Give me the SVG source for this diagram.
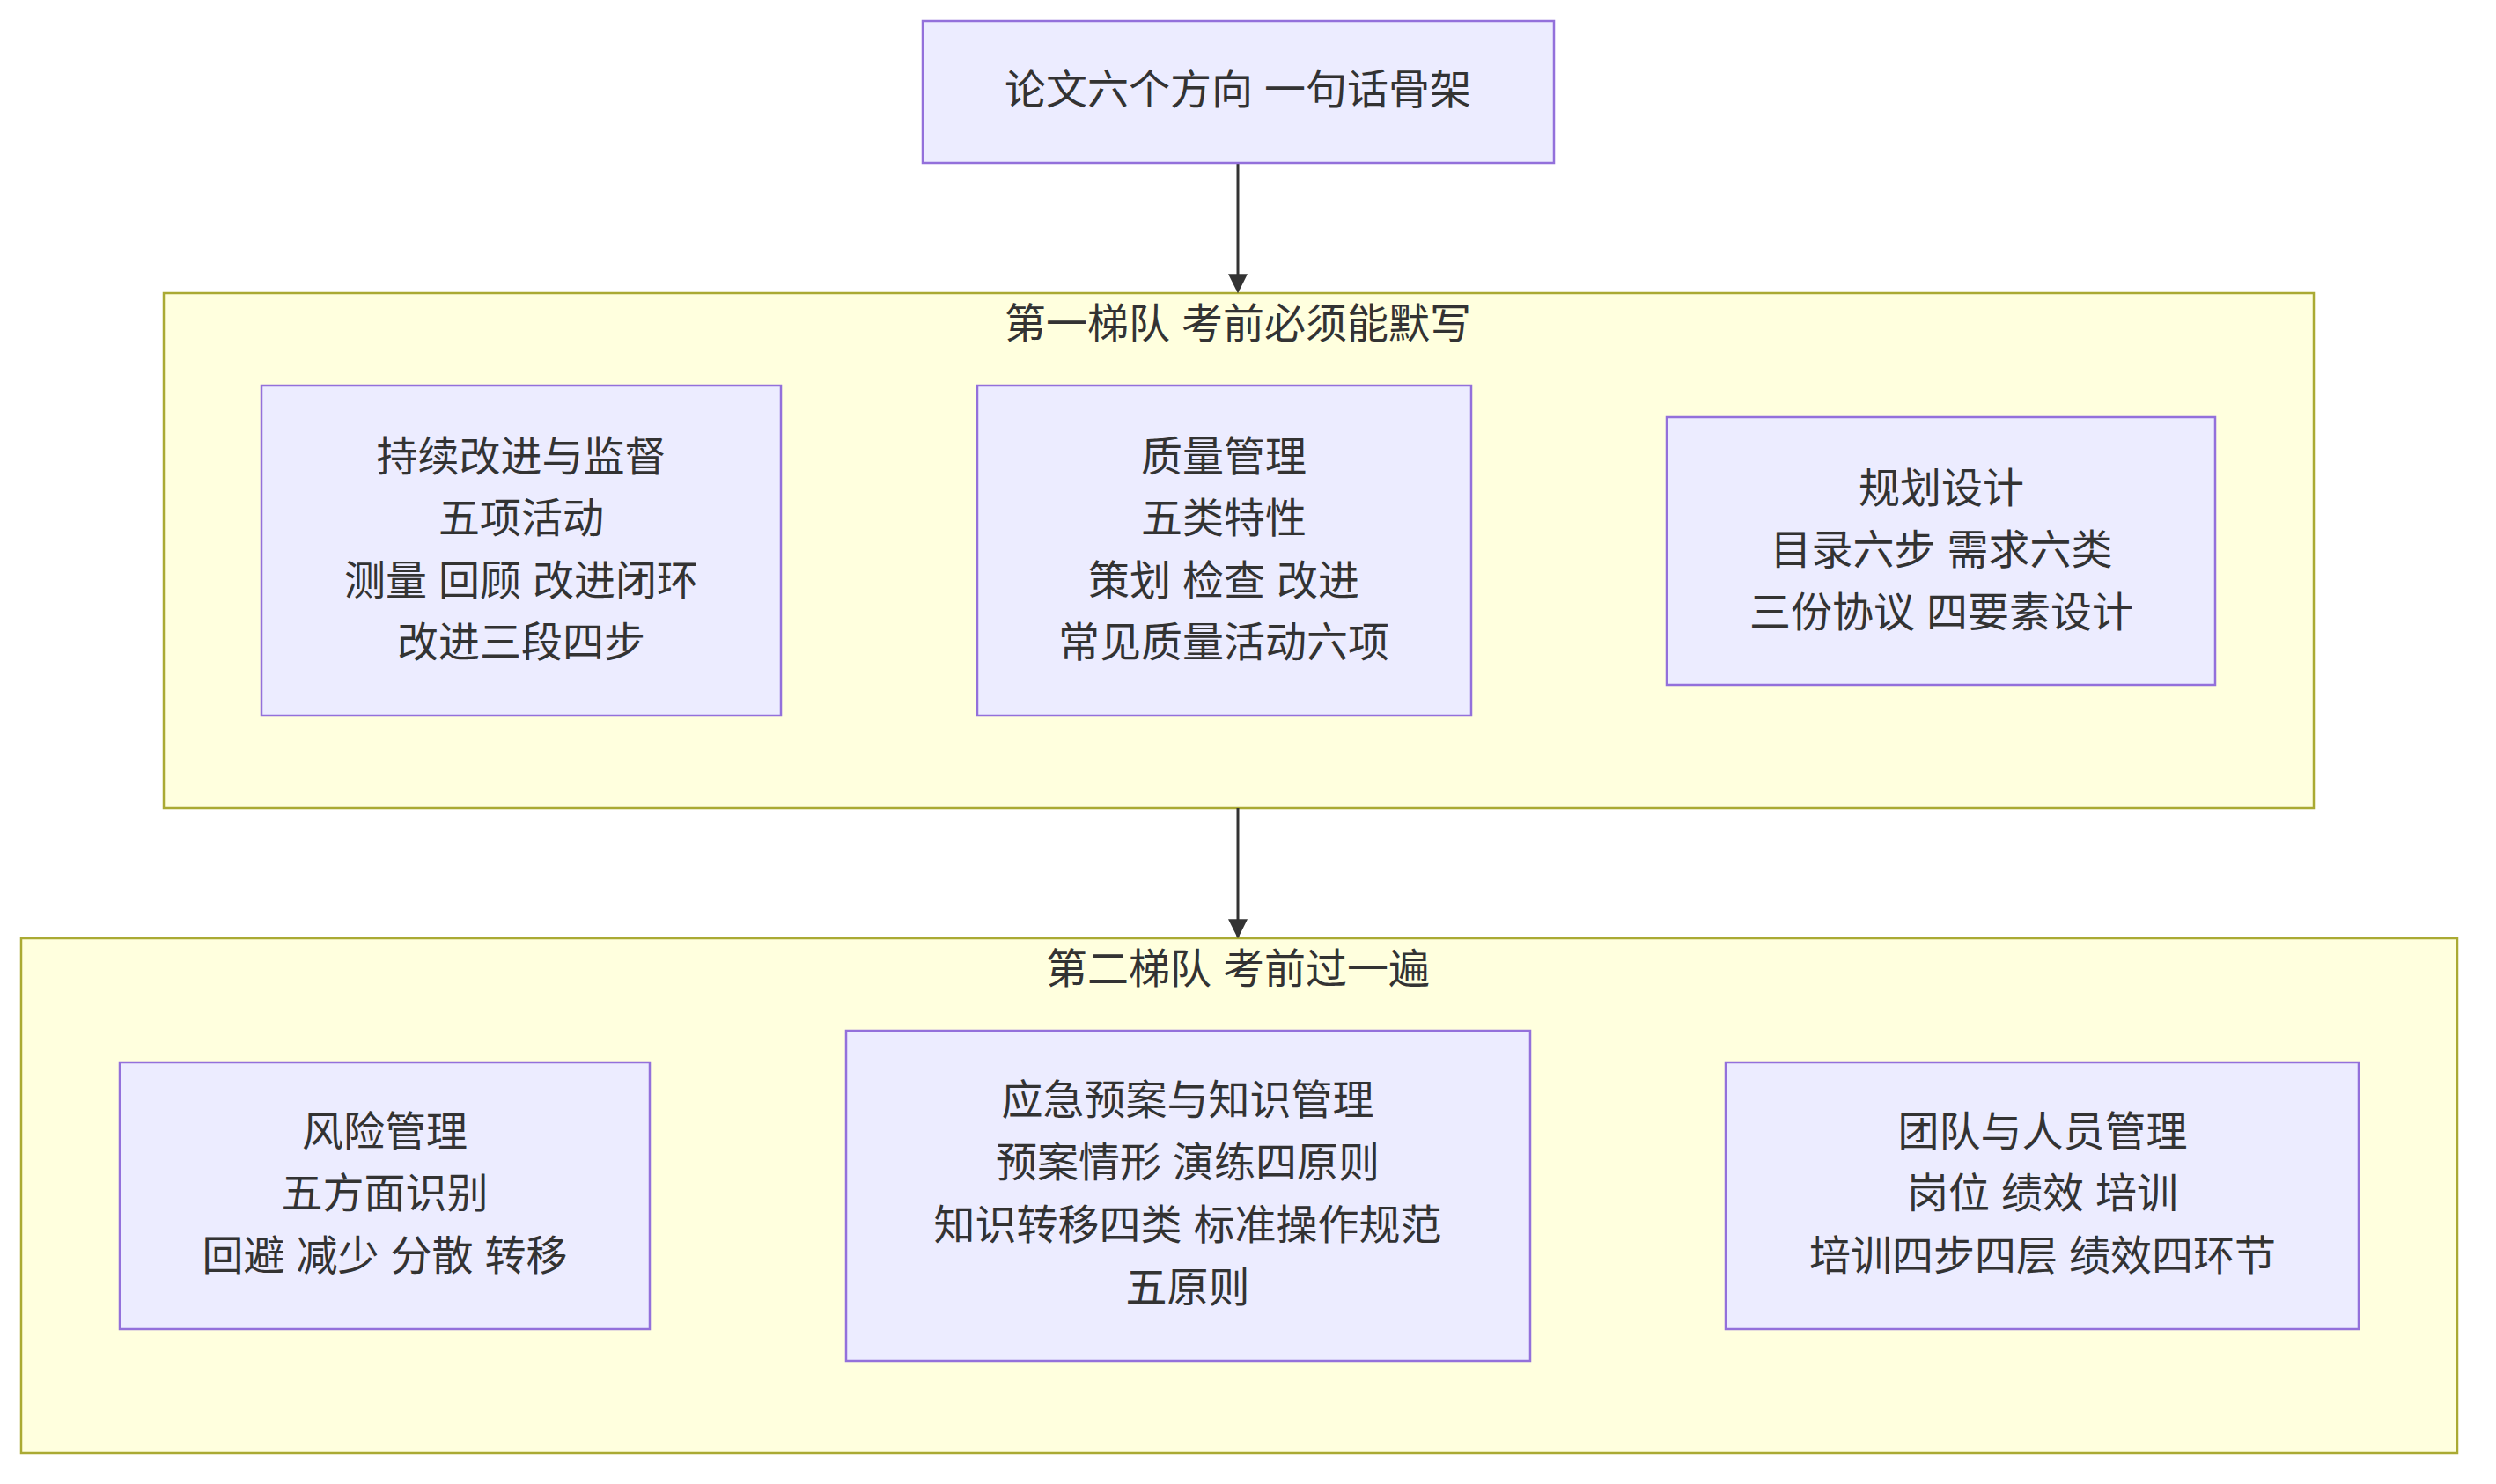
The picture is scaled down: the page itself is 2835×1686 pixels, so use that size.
<svg xmlns="http://www.w3.org/2000/svg" width="2835" height="1686" viewBox="0 0 2835 1686">
<defs>
<style>
.cl{fill:#ffffde;stroke:#aaaa33;stroke-width:2.5}
.nd{fill:#ececff;stroke:#9370db;stroke-width:2.5}
text{font-family:"Liberation Sans","Noto Sans CJK SC",sans-serif;font-size:47px;fill:#333;text-anchor:middle;dominant-baseline:central}
.ed{stroke:#333;stroke-width:3;fill:none}
</style>
<marker id="ah" viewBox="0 0 10 10" refX="9" refY="5" markerWidth="22" markerHeight="22" markerUnits="userSpaceOnUse" orient="auto"><path d="M0,0L10,5L0,10z" fill="#333"/></marker>
</defs>
<rect width="2835" height="1686" fill="#fff"/>
<g id="cluster1"><rect class="cl" x="186" y="333" width="2442" height="585"/><text x="1406" y="367">第一梯队 考前必须能默写</text></g>
<g id="cluster2"><rect class="cl" x="24" y="1066" width="2767" height="585"/><text x="1406" y="1100">第二梯队 考前过一遍</text></g>
<g id="connectors">
<path class="ed" d="M1406,185V331" marker-end="url(#ah)"/>
<path class="ed" d="M1406,918V1064" marker-end="url(#ah)"/>
</g>
<g id="top"><rect class="nd" x="1048" y="24" width="717" height="161"/><text x="1406" y="101">论文六个方向 一句话骨架</text></g>
<g id="nA"><rect class="nd" x="297" y="438" width="590" height="375"/>
<text x="592" y="518">持续改进与监督</text><text x="592" y="588">五项活动</text><text x="592" y="659">测量 回顾 改进闭环</text><text x="592" y="729">改进三段四步</text></g>
<g id="nB"><rect class="nd" x="1110" y="438" width="561" height="375"/>
<text x="1390" y="518">质量管理</text><text x="1390" y="588">五类特性</text><text x="1390" y="659">策划 检查 改进</text><text x="1390" y="729">常见质量活动六项</text></g>
<g id="nC"><rect class="nd" x="1893" y="474" width="623" height="304"/>
<text x="2205" y="554">规划设计</text><text x="2205" y="624">目录六步 需求六类</text><text x="2205" y="695">三份协议 四要素设计</text></g>
<g id="nD"><rect class="nd" x="136" y="1207" width="602" height="303"/>
<text x="437" y="1285">风险管理</text><text x="437" y="1355">五方面识别</text><text x="437" y="1426">回避 减少 分散 转移</text></g>
<g id="nE"><rect class="nd" x="961" y="1171" width="777" height="375"/>
<text x="1349" y="1249">应急预案与知识管理</text><text x="1349" y="1320">预案情形 演练四原则</text><text x="1349" y="1391">知识转移四类 标准操作规范</text><text x="1349" y="1462">五原则</text></g>
<g id="nF"><rect class="nd" x="1960" y="1207" width="719" height="303"/>
<text x="2320" y="1285">团队与人员管理</text><text x="2320" y="1355">岗位 绩效 培训</text><text x="2320" y="1426">培训四步四层 绩效四环节</text></g>
</svg>
